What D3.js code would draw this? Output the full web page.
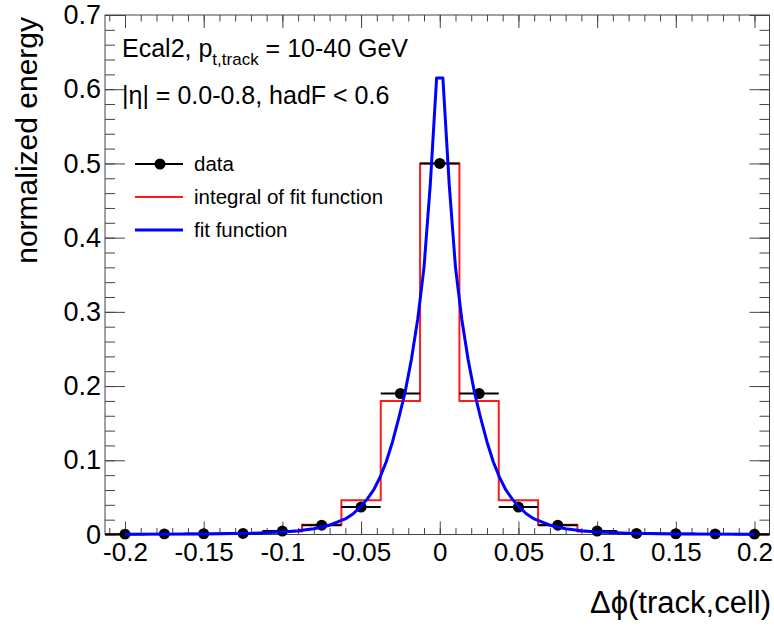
<!DOCTYPE html>
<html>
<head>
<meta charset="utf-8">
<script src="https://cdn.jsdelivr.net/npm/d3@7/dist/d3.min.js"></script>
<style>
  body { margin: 0; background: #fff; }
  text { font-family: "Liberation Sans", Arial, Helvetica, sans-serif; fill: #000; }
</style>
</head>
<body>
<svg id="chart" width="774" height="630"></svg>
<script>
// bin centres of the histogram (bin width 0.025)
const binCenters = [-0.2, -0.175, -0.15, -0.125, -0.1, -0.075, -0.05, -0.025, 0,
                    0.025, 0.05, 0.075, 0.1, 0.125, 0.15, 0.175, 0.2];
// measured data points
const dataValues = [0.0004, 0.0007, 0.001, 0.0015, 0.0046, 0.0125, 0.037, 0.19, 0.5,
                    0.19, 0.037, 0.0125, 0.0046, 0.0015, 0.001, 0.0007, 0.0004];
// integral of fit function per bin
const fitIntegral = [0.0003, 0.0006, 0.001, 0.002, 0.004, 0.013, 0.046, 0.18, 0.5,
                     0.18, 0.046, 0.013, 0.004, 0.002, 0.001, 0.0006, 0.0003];
// fit function
const fitX = [-0.2, -0.15, -0.12, -0.1, -0.09, -0.08, -0.07, -0.06, -0.055, -0.05, -0.046, -0.042,
              -0.038, -0.034, -0.03, -0.026, -0.022, -0.018, -0.014, -0.01, -0.006, -0.002,
              0.002, 0.006, 0.01, 0.014, 0.018, 0.022, 0.026, 0.03, 0.034, 0.038, 0.042, 0.046,
              0.05, 0.055, 0.06, 0.07, 0.08, 0.09, 0.1, 0.12, 0.15, 0.2];
const fitY = [0.0002, 0.0006, 0.0016, 0.0033, 0.005, 0.0078, 0.0125, 0.021, 0.028, 0.038, 0.048, 0.06,
              0.077, 0.098, 0.125, 0.157, 0.192, 0.236, 0.29, 0.36, 0.472, 0.615,
              0.615, 0.472, 0.36, 0.29, 0.236, 0.192, 0.157, 0.125, 0.098, 0.077, 0.06, 0.048,
              0.038, 0.028, 0.021, 0.0125, 0.0078, 0.005, 0.0033, 0.0016, 0.0006, 0.0002];

const xTickValues = [-0.2, -0.15, -0.1, -0.05, 0, 0.05, 0.1, 0.15, 0.2];
const xTickLabels = ["-0.2", "-0.15", "-0.1", "-0.05", "0", "0.05", "0.1", "0.15", "0.2"];
const yTickValues = [0, 0.1, 0.2, 0.3, 0.4, 0.5, 0.6, 0.7];
const yTickLabels = ["0", "0.1", "0.2", "0.3", "0.4", "0.5", "0.6", "0.7"];
const binWidth = 0.025;

const frame = { left: 105, right: 769.5, top: 15, bottom: 534.5 };

const svg = d3.select('#chart');

const x = d3.scaleLinear().domain([-0.2, 0.2]).range([125, 754.5]);
const y = d3.scaleLinear().domain([0, 0.7]).range([frame.bottom, frame.top]);

svg.append('defs').append('clipPath').attr('id', 'clip')
  .append('rect')
  .attr('x', frame.left).attr('y', frame.top - 5)
  .attr('width', frame.right - frame.left).attr('height', frame.bottom - frame.top + 10);

// minor tick positions
const xMinor = d3.range(-21, 21).map(i => i / 100).filter(v => x(v) >= frame.left && x(v) <= frame.right);
const yMinor = d3.range(0, 36).map(i => i / 50);

const axisColor = '#444';

function styleAxis(g) {
  g.select('.domain').remove();
  g.selectAll('line').attr('stroke', axisColor).attr('stroke-width', 1);
}

// bottom axis: minor + major ticks pointing up
svg.append('g').attr('transform', `translate(0,${frame.bottom})`)
  .call(d3.axisBottom(x).tickValues(xMinor).tickSize(-6.5).tickFormat(''))
  .call(styleAxis);
svg.append('g').attr('transform', `translate(0,${frame.bottom})`)
  .call(d3.axisBottom(x).tickValues(xTickValues).tickSize(-13).tickPadding(8)
    .tickFormat((d, i) => xTickLabels[i]))
  .call(styleAxis)
  .call(g => g.selectAll('text').attr('font-size', 26));
// top axis mirror
svg.append('g').attr('transform', `translate(0,${frame.top})`)
  .call(d3.axisTop(x).tickValues(xMinor).tickSize(-6.5).tickFormat(''))
  .call(styleAxis);
svg.append('g').attr('transform', `translate(0,${frame.top})`)
  .call(d3.axisTop(x).tickValues(xTickValues).tickSize(-13).tickFormat(''))
  .call(styleAxis);

// left axis
svg.append('g').attr('transform', `translate(${frame.left},0)`)
  .call(d3.axisLeft(y).tickValues(yMinor).tickSize(-10).tickFormat(''))
  .call(styleAxis);
svg.append('g').attr('transform', `translate(${frame.left},0)`)
  .call(d3.axisLeft(y).tickValues(yTickValues).tickSize(-20).tickPadding(4)
    .tickFormat((d, i) => yTickLabels[i]))
  .call(styleAxis)
  .call(g => g.selectAll('text').attr('font-size', 27));
// right axis mirror
svg.append('g').attr('transform', `translate(${frame.right},0)`)
  .call(d3.axisRight(y).tickValues(yMinor).tickSize(-10).tickFormat(''))
  .call(styleAxis);
svg.append('g').attr('transform', `translate(${frame.right},0)`)
  .call(d3.axisRight(y).tickValues(yTickValues).tickSize(-20).tickFormat(''))
  .call(styleAxis);

// frame
svg.append('rect')
  .attr('x', frame.left).attr('y', frame.top)
  .attr('width', frame.right - frame.left).attr('height', frame.bottom - frame.top)
  .attr('fill', 'none').attr('stroke', axisColor).attr('stroke-width', 1);

const plot = svg.append('g').attr('clip-path', 'url(#clip)');

// integral of fit function as step outline
const steps = [[binCenters[0] - binWidth / 2, 0]];
binCenters.forEach((c, i) => {
  steps.push([c - binWidth / 2, fitIntegral[i]]);
  steps.push([c + binWidth / 2, fitIntegral[i]]);
});
steps.push([binCenters[binCenters.length - 1] + binWidth / 2, 0]);

plot.append('path')
  .datum(steps)
  .attr('fill', 'none')
  .attr('stroke', '#ff1a1a')
  .attr('stroke-width', 2)
  .attr('d', d3.line().x(d => x(d[0])).y(d => y(d[1])));

// data: horizontal error bars + markers
plot.selectAll('.errx')
  .data(binCenters)
  .enter().append('line')
  .attr('x1', d => x(d - binWidth / 2))
  .attr('x2', d => x(d + binWidth / 2))
  .attr('y1', (d, i) => y(dataValues[i]))
  .attr('y2', (d, i) => y(dataValues[i]))
  .attr('stroke', '#000').attr('stroke-width', 2);

plot.selectAll('.dot')
  .data(binCenters)
  .enter().append('circle')
  .attr('cx', d => x(d))
  .attr('cy', (d, i) => y(dataValues[i]))
  .attr('r', 5.5)
  .attr('fill', '#000');

// fit function
plot.append('path')
  .datum(fitX.map((v, i) => [v, fitY[i]]))
  .attr('fill', 'none')
  .attr('stroke', '#0000ff')
  .attr('stroke-width', 3)
  .attr('stroke-linejoin', 'round')
  .attr('d', d3.line().x(d => x(d[0])).y(d => y(d[1])));

// labels in the pad
const t1 = svg.append('text').attr('x', 122).attr('y', 57).attr('font-size', 25);
t1.append('tspan').text('Ecal2, p');
t1.append('tspan').attr('font-size', 17).attr('dy', 8).text('t,track');
t1.append('tspan').attr('dy', -8).text(' = 10-40 GeV');

svg.append('text').attr('x', 122).attr('y', 104).attr('font-size', 25)
  .text('|η| = 0.0-0.8, hadF < 0.6');

// legend
const legend = svg.append('g');
legend.append('line').attr('x1', 135).attr('x2', 183).attr('y1', 164).attr('y2', 164)
  .attr('stroke', '#000').attr('stroke-width', 2);
legend.append('circle').attr('cx', 160).attr('cy', 164).attr('r', 5.5).attr('fill', '#000');
legend.append('line').attr('x1', 135).attr('x2', 183).attr('y1', 197).attr('y2', 197)
  .attr('stroke', '#ff1a1a').attr('stroke-width', 2);
legend.append('line').attr('x1', 135).attr('x2', 183).attr('y1', 230).attr('y2', 230)
  .attr('stroke', '#0000ff').attr('stroke-width', 3);
const legendLabels = ['data', 'integral of fit function', 'fit function'];
legend.selectAll('.lt')
  .data(legendLabels)
  .enter().append('text')
  .attr('x', 194)
  .attr('y', (d, i) => 171 + i * 33)
  .attr('font-size', 20.5)
  .text(d => d);

// axis titles
svg.append('text')
  .attr('text-anchor', 'end')
  .attr('transform', 'translate(37,17) rotate(-90)')
  .attr('font-size', 30)
  .text('normalized energy');

svg.append('text')
  .attr('text-anchor', 'end')
  .attr('x', 771).attr('y', 613)
  .attr('font-size', 31)
  .text('Δϕ(track,cell)');
</script>
</body>
</html>
